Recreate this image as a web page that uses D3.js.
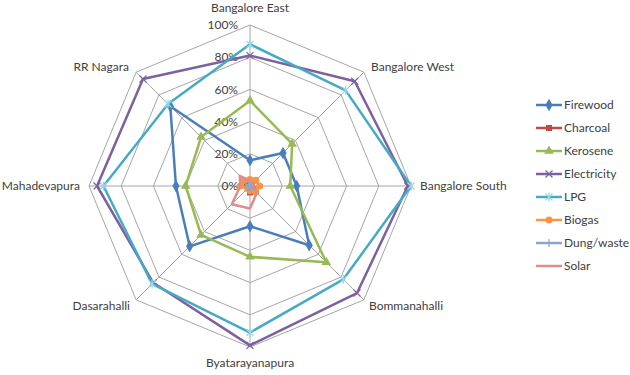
<!DOCTYPE html>
<html>
<head>
<meta charset="utf-8">
<script src="https://cdn.jsdelivr.net/npm/d3@7"></script>
<style>
  body { margin: 0; background: #fff; }
  svg text { font-family: Lato, "Open Sans", sans-serif; fill: #404040; }
</style>
</head>
<body>
<div id="chart"></div>
<script>
// categories (clockwise from top)
const areas = ['Bangalore East', 'Bangalore West', 'Bangalore South', 'Bommanahalli',
  'Byatarayanapura', 'Dasarahalli', 'Mahadevapura', 'RR Nagara']

// series values in %
const firewood = [16, 29, 29, 52, 25, 53, 46, 70]
const charcoal = [2, 1, 1, 3, 4, 2, 2, 2]
const kerosene = [53, 37, 25, 67, 44, 43, 40, 43]
const electricity = [81, 92, 98, 94, 99, 85, 95, 94]
const lpg = [88, 84, 100, 82, 91, 86, 91, 72]
const biogas = [4, 5, 6, 5, 3, 2, 6, 5]
const dung = [1, 1, 1, 1, 1, 1, 1, 1]
const solar = [3, 2, 2, 6, 14, 16, 6, 9]

const seriesNames = ['Firewood', 'Charcoal', 'Kerosene', 'Electricity', 'LPG', 'Biogas', 'Dung/waste', 'Solar']
const tickLabels = ['0%', '20%', '40%', '60%', '80%', '100%']
const tickValues = [0, 20, 40, 60, 80, 100]

const width = 630,
      height = 375,
      cx = 250,
      cy = 186,
      radius = 161

const series = [
  { name: seriesNames[0], values: firewood, color: '#4a7ebb', marker: 'diamond' },
  { name: seriesNames[1], values: charcoal, color: '#be4b48', marker: 'square' },
  { name: seriesNames[2], values: kerosene, color: '#98b954', marker: 'triangle' },
  { name: seriesNames[3], values: electricity, color: '#7d60a0', marker: 'x' },
  { name: seriesNames[4], values: lpg, color: '#46aac5', marker: 'star' },
  { name: seriesNames[5], values: biogas, color: '#f69545', marker: 'circle' },
  { name: seriesNames[6], values: dung, color: '#8ea5cb', marker: 'plus' },
  { name: seriesNames[7], values: solar, color: '#dc8e8e', marker: 'none' }
]

const svg = d3.select('#chart')
  .append('svg')
  .attr('width', width)
  .attr('height', height)

const angle = d3.scaleBand()
  .domain(areas)
  .range([0, 2 * Math.PI])
  .padding(0)

const r = d3.scaleLinear()
  .domain([0, 100])
  .range([0, radius])

const g = svg.append('g')
  .attr('transform', `translate(${cx},${cy})`)

const px = (a, v) => r(v) * Math.sin(angle(a))
const py = (a, v) => -r(v) * Math.cos(angle(a))

// grid octagons
tickValues.slice(1).forEach(t => {
  g.append('path')
    .attr('d', d3.line().curve(d3.curveLinearClosed)(areas.map(a => [px(a, t), py(a, t)])))
    .attr('fill', 'none')
    .attr('stroke', '#a6a6a6')
    .attr('stroke-width', 1)
})

// spokes
g.selectAll('.spoke')
  .data(areas)
  .enter()
  .append('line')
  .attr('class', 'spoke')
  .attr('x1', 0).attr('y1', 0)
  .attr('x2', d => px(d, 100))
  .attr('y2', d => py(d, 100))
  .attr('stroke', '#a6a6a6')
  .attr('stroke-width', 1)

// tick labels
g.selectAll('.tick')
  .data(tickValues)
  .enter()
  .append('text')
  .attr('class', 'tick')
  .attr('x', -12)
  .attr('y', d => -r(d))
  .attr('dy', '0.35em')
  .attr('text-anchor', 'end')
  .style('font-size', '12px')
  .text((d, i) => tickLabels[i])

// category labels
const labelPos = {
  'Bangalore East': [0, -178, 'middle'],
  'Bangalore West': [121, -119, 'start'],
  'Bangalore South': [170, 0, 'start'],
  'Bommanahalli': [119, 120, 'start'],
  'Byatarayanapura': [0, 177, 'middle'],
  'Dasarahalli': [-120, 120, 'end'],
  'Mahadevapura': [-170, 0, 'end'],
  'RR Nagara': [-121, -119, 'end']
}
g.selectAll('.cat')
  .data(areas)
  .enter()
  .append('text')
  .attr('class', 'cat')
  .attr('x', d => labelPos[d][0])
  .attr('y', d => labelPos[d][1])
  .attr('dy', '0.35em')
  .attr('text-anchor', d => labelPos[d][2])
  .style('font-size', '12px')
  .text(d => d)

const markerPath = (type) => {
  switch (type) {
    case 'diamond': return d3.symbol(d3.symbolDiamond, 45)()
    case 'square': return d3.symbol(d3.symbolSquare, 36)()
    case 'triangle': return d3.symbol(d3.symbolTriangle, 40)()
    case 'circle': return d3.symbol(d3.symbolCircle, 40)()
    case 'x': return 'M-3.5,-3.5L3.5,3.5M-3.5,3.5L3.5,-3.5'
    case 'star': return 'M-3.5,-3.5L3.5,3.5M-3.5,3.5L3.5,-3.5M0,-4.5L0,4.5'
    case 'plus': return 'M-4,0L4,0M0,-4L0,4'
    default: return ''
  }
}
const isStroked = t => t === 'x' || t === 'star' || t === 'plus'

// series lines
const radar = d3.line().curve(d3.curveLinearClosed)

series.forEach(s => {
  const pts = areas.map((a, i) => [px(a, s.values[i]), py(a, s.values[i])])
  g.append('path')
    .attr('d', radar(pts))
    .attr('fill', 'none')
    .attr('stroke', s.color)
    .attr('stroke-width', 2.5)
    .attr('stroke-linejoin', 'round')

  if (s.marker !== 'none') {
    g.selectAll(null)
      .data(pts)
      .enter()
      .append('path')
      .attr('transform', d => `translate(${d[0]},${d[1]})`)
      .attr('d', markerPath(s.marker))
      .attr('fill', isStroked(s.marker) ? 'none' : s.color)
      .attr('stroke', isStroked(s.marker) ? (s.marker === 'star' ? '#9bd7e8' : s.color) : 'none')
      .attr('stroke-width', 1.2)
  }
})

// legend
const legend = svg.append('g')
  .attr('transform', 'translate(536,105)')

const item = legend.selectAll('.item')
  .data(series)
  .enter()
  .append('g')
  .attr('class', 'item')
  .attr('transform', (d, i) => `translate(0,${i * 23})`)

item.append('line')
  .attr('x1', 0).attr('x2', 26)
  .attr('stroke', d => d.color)
  .attr('stroke-width', 2.5)

item.append('path')
  .attr('transform', 'translate(13,0)')
  .attr('d', d => markerPath(d.marker))
  .attr('fill', d => isStroked(d.marker) ? 'none' : d.color)
  .attr('stroke', d => isStroked(d.marker) ? (d.marker === 'star' ? '#9bd7e8' : d.color) : 'none')
  .attr('stroke-width', 1.2)

item.append('text')
  .attr('x', 28)
  .attr('dy', '0.35em')
  .style('font-size', '12px')
  .text(d => d.name)
</script>
</body>
</html>
